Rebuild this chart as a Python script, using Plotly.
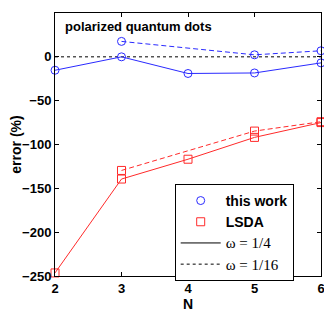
import plotly.graph_objects as go

# data
N_all = [2, 3, 4, 5, 6]
N_sub = [3, 5, 6]
this_work_w4 = [-15.3, 0.0, -19.0, -18.4, -6.9]
this_work_w16 = [17.6, 2.3, 6.9]
lsda_w4 = [-246.5, -139.4, -116.8, -91.9, -75.0]
lsda_w16 = [-129.6, -84.7, -74.0]

BLUE = "#2a2aff"
RED = "#ff2a2a"
FONT = "Liberation Sans"
DASH = "5px,3px"

fig = go.Figure()

# zero reference line
fig.add_trace(go.Scatter(x=[2, 6], y=[0, 0], mode="lines",
                         line=dict(color="black", width=1, dash="dot"),
                         showlegend=False, hoverinfo="skip"))

def add(x, y, color, symbol, dash):
    fig.add_trace(go.Scatter(x=x, y=y, mode="lines+markers",
                             line=dict(color=color, width=1, dash=dash),
                             marker=dict(symbol=symbol, size=8, color=color,
                                         line=dict(width=1, color=color)),
                             showlegend=False, cliponaxis=False))

add(N_all, this_work_w4, BLUE, "circle-open", "solid")
add(N_sub, this_work_w16, BLUE, "circle-open", DASH)
add(N_all, lsda_w4, RED, "square-open", "solid")
add(N_sub, lsda_w16, RED, "square-open", DASH)

# legend-only entries
fig.add_trace(go.Scatter(x=[None], y=[None], mode="markers", name="<b>this work</b>",
                         marker=dict(symbol="circle-open", size=8, color=BLUE, line=dict(width=1))))
fig.add_trace(go.Scatter(x=[None], y=[None], mode="markers", name="<b>LSDA</b>",
                         marker=dict(symbol="square-open", size=8, color=RED, line=dict(width=1))))
fig.add_trace(go.Scatter(x=[None], y=[None], mode="lines",
                         name="<span style='font-family:Liberation Serif;font-size:15px'>ω = 1/4</span>",
                         line=dict(color="black", width=1)))
fig.add_trace(go.Scatter(x=[None], y=[None], mode="lines",
                         name="<span style='font-family:Liberation Serif;font-size:15px'>ω = 1/16</span>",
                         line=dict(color="black", width=1, dash="3px,3px")))

fig.add_annotation(x=0.03, y=0.985, xref="paper", yref="paper",
                   text="<b>polarized quantum dots</b>", showarrow=False,
                   xanchor="left", yanchor="top",
                   font=dict(family=FONT, size=13, color="black"))

axis_common = dict(showline=True, linecolor="black", linewidth=1, mirror="ticks",
                   ticks="inside", ticklen=4, tickcolor="black", showgrid=False,
                   zeroline=False, automargin=False,
                   tickfont=dict(family=FONT, size=13, color="black", weight="bold"))

# the page body has an 8px default margin, so the figure is sized to compensate
fig.update_layout(
    width=324, height=305,
    margin=dict(l=47, r=11, t=5, b=37, autoexpand=False),
    paper_bgcolor="white", plot_bgcolor="white",
    xaxis=dict(range=[2, 6], tickvals=N_all, title=dict(text="<b>N</b>", standoff=0,
               font=dict(family=FONT, size=14, color="black")), **axis_common),
    yaxis=dict(range=[-250, 50], tickvals=[-250, -200, -150, -100, -50, 0, 50],
               title=dict(text="<b>error (%)</b>", standoff=4,
                          font=dict(family=FONT, size=14, color="black")), **axis_common),
    legend=dict(x=0.45, y=0.35, xanchor="left", yanchor="top",
                bordercolor="black", borderwidth=1, bgcolor="white",
                font=dict(family=FONT, size=14, color="black"),
                itemwidth=40, tracegroupgap=0),
    showlegend=True,
)

fig.write_html("out.html")
